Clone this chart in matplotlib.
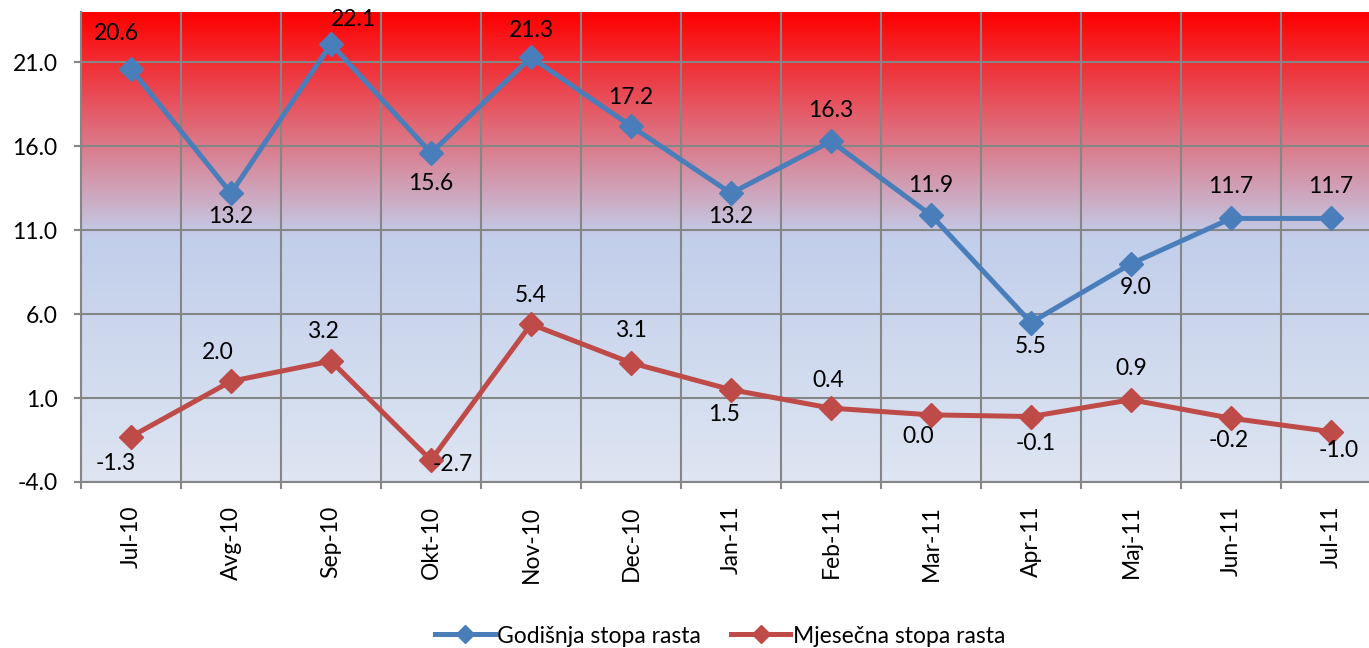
import numpy as np
import matplotlib.pyplot as plt
from matplotlib.colors import LinearSegmentedColormap

months = ["Jul-10", "Avg-10", "Sep-10", "Okt-10", "Nov-10", "Dec-10", "Jan-11",
          "Feb-11", "Mar-11", "Apr-11", "Maj-11", "Jun-11", "Jul-11"]
godisnja = [20.6, 13.2, 22.1, 15.6, 21.3, 17.2, 13.2, 16.3, 11.9, 5.5, 9.0, 11.7, 11.7]
mjesecna = [-1.3, 2.0, 3.2, -2.7, 5.4, 3.1, 1.5, 0.4, 0.0, -0.1, 0.9, -0.2, -1.0]
yticks = [-4.0, 1.0, 6.0, 11.0, 16.0, 21.0]

# label offsets in pixels (dx, dy) relative to each point
blue_off = [(-15, 36), (0, -23), (22, 24), (0, -30), (0, 27), (0, 29), (0, -23),
            (0, 31), (0, 30), (0, -24), (5, -24), (0, 32), (0, 32)]
red_off = [(-15, -27), (-13, 29), (-8, 30), (22, -4), (0, 29), (0, 32), (-7, -25),
           (-3, 28), (-13, -22), (5, -27), (0, 31), (-2, -22), (8, -19)]

plt.rcParams['font.family'] = ['Lato', 'DejaVu Sans']
fs = 16.5

fig = plt.figure(figsize=(13.69, 6.48), dpi=100)
ax = fig.add_axes([81 / 1369, 166 / 648, 1300 / 1369, 470 / 648])

# background gradient (red top -> blue bottom)
cmap = LinearSegmentedColormap.from_list(
    "bg", [(0.0, (1.0, 0.0, 0.0)),
           (0.48, (0.76, 0.81, 0.92)),
           (1.0, (0.87, 0.9, 0.95))])
grad = np.linspace(0, 1, 256).reshape(-1, 1)
ax.imshow(grad, extent=[-0.5, 12.5, -4, 24], aspect="auto", cmap=cmap,
          origin="upper", zorder=0)

x = np.arange(len(months))
blue = "#4A7EBB"
red = "#BE4B48"
ax.plot(x, godisnja, color=blue, lw=3.6, marker="D", ms=12, zorder=3,
        label="Godišnja stopa rasta")
ax.plot(x, mjesecna, color=red, lw=3.6, marker="D", ms=12, zorder=3,
        label="Mjesečna stopa rasta")

for i, v in enumerate(godisnja):
    ax.annotate(f"{v:.1f}", (x[i], v), xytext=blue_off[i], textcoords="offset pixels",
                ha="center", va="center", fontsize=fs, zorder=4)
for i, v in enumerate(mjesecna):
    ax.annotate(f"{v:.1f}", (x[i], v), xytext=red_off[i], textcoords="offset pixels",
                ha="center", va="center", fontsize=fs, zorder=4)

ax.set_xlim(-0.5, 12.5)
ax.set_ylim(-4, 24)
ax.set_yticks(yticks)
ax.set_yticklabels([f"{t:.1f}" for t in yticks])
ax.set_xticks(x)
ax.set_xticklabels(months, rotation=90)
ax.set_xticks(np.arange(-0.5, 13, 1), minor=True)

grid_c = "#868686"
ax.set_axisbelow(True)
ax.grid(axis="y", which="major", color=grid_c, lw=1.5)
ax.grid(axis="x", which="minor", color=grid_c, lw=1.5)
ax.tick_params(axis="y", length=5, width=1.5, color=grid_c, pad=12, labelsize=fs)
ax.tick_params(axis="x", which="major", length=0, pad=17, labelsize=fs)
ax.tick_params(axis="x", which="minor", length=5, width=1.5, color=grid_c)

for s in ["top", "right"]:
    ax.spines[s].set_visible(False)
for s in ["left", "bottom"]:
    ax.spines[s].set_color(grid_c)
    ax.spines[s].set_linewidth(1.5)

fig.legend(loc="center", bbox_to_anchor=(0.526, 0.0185), ncol=2, frameon=False,
           fontsize=fs, handlelength=2.6, columnspacing=1.3, handletextpad=0.1,
           markerscale=0.8)

fig.savefig("out.png", dpi=100)
